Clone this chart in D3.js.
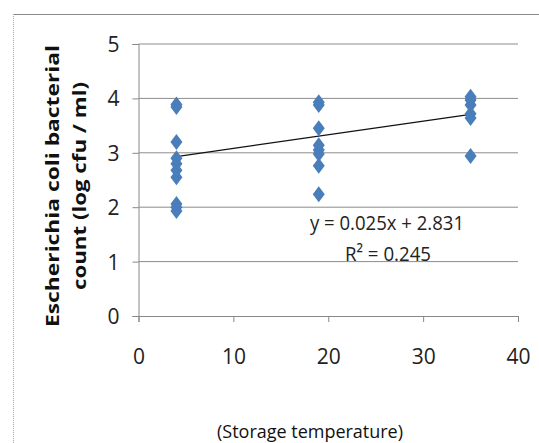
<!DOCTYPE html>
<html lang="en">
<head>
<meta charset="utf-8">
<title>E. coli vs storage temperature</title>
<script src="https://cdn.jsdelivr.net/npm/d3@7"></script>
<style>
  body { margin: 0; background: #fff; }
  text { font-family: "Open Sans", "Noto Sans", sans-serif; }
</style>
</head>
<body>
<script>
// storage temperature (x) and log cfu/ml (y)
var temps = [4, 4, 4, 4, 4, 4, 4, 4, 4, 4,
             19, 19, 19, 19, 19, 19, 19, 19,
             35, 35, 35, 35, 35, 35];
var counts = [3.84, 3.89, 3.2, 2.9, 2.8, 2.68, 2.55, 2.06, 2.0, 1.93,
              3.88, 3.93, 3.45, 3.14, 3.05, 2.98, 2.76, 2.24,
              4.03, 3.97, 3.88, 3.72, 3.64, 2.94];
var xTicks = [0, 10, 20, 30, 40];
var yTicks = [0, 1, 2, 3, 4, 5];
var slope = 0.025, intercept = 2.831, r2 = 0.245;
var trendX = [4, 35];

var w = 539, h = 443;
var svg = d3.select("body").append("svg")
    .attr("width", w)
    .attr("height", h);

// chart frame
svg.append("line").attr("x1", 13).attr("x2", w).attr("y1", 14.5).attr("y2", 14.5)
    .attr("stroke", "#888").attr("stroke-width", 1.2);
svg.append("line").attr("x1", 13.5).attr("x2", 13.5).attr("y1", 14).attr("y2", h)
    .attr("stroke", "#aaa").attr("stroke-dasharray", "1,1");

var x = d3.scaleLinear().domain([0, 40]).range([138.5, 518]);
var y = d3.scaleLinear().domain([0, 5]).range([316, 44]);

// gridlines
svg.selectAll(".grid")
    .data(yTicks.slice(1))
    .enter().append("line")
    .attr("x1", x(0)).attr("x2", x(40))
    .attr("y1", function(d) { return y(d); })
    .attr("y2", function(d) { return y(d); })
    .attr("stroke", "#8c8c8c").attr("stroke-width", 1);

// axes
var xAxis = svg.append("g")
    .attr("transform", "translate(0," + y(0) + ")")
    .call(d3.axisBottom(x).tickValues(xTicks).tickFormat(d3.format("d"))
        .tickSize(6).tickPadding(27));
var yAxis = svg.append("g")
    .attr("transform", "translate(" + x(0) + ",0)")
    .call(d3.axisLeft(y).tickValues(yTicks).tickFormat(d3.format("d"))
        .tickSize(6).tickPadding(13));

[xAxis, yAxis].forEach(function(a) {
    a.select(".domain").attr("stroke", "#888");
    a.selectAll(".tick line").attr("stroke", "#888");
    a.selectAll(".tick text")
        .attr("fill", "#222")
        .style("font-size", "21px")
        .style("font-family", "'Open Sans', sans-serif");
});
yAxis.selectAll(".tick text").attr("dy", "0.36em");

// trend line
svg.append("line")
    .attr("x1", x(trendX[0])).attr("y1", y(slope * trendX[0] + intercept))
    .attr("x2", x(trendX[1])).attr("y2", y(slope * trendX[1] + intercept))
    .attr("stroke", "#111").attr("stroke-width", 1.2);

// diamonds
svg.selectAll(".pt")
    .data(temps)
    .enter().append("path")
    .attr("d", "M0,-8L6,0L0,8L-6,0Z")
    .attr("transform", function(d, i) {
        return "translate(" + x(d) + "," + y(counts[i]) + ")";
    })
    .attr("fill", "#4a7ebb");

// equation
svg.append("text")
    .attr("x", 387).attr("y", 230)
    .attr("text-anchor", "middle")
    .attr("textLength", 154).attr("lengthAdjust", "spacingAndGlyphs")
    .style("font-size", "20px").attr("fill", "#222")
    .text("y = " + slope.toFixed(3) + "x + " + intercept.toFixed(3));
svg.append("text")
    .attr("x", 388).attr("y", 261)
    .attr("text-anchor", "middle")
    .attr("textLength", 86).attr("lengthAdjust", "spacingAndGlyphs")
    .style("font-size", "20px").attr("fill", "#222")
    .text("R\u00b2 = " + r2.toFixed(3));

// axis titles
var yt = svg.append("text")
    .attr("transform", "translate(59,186) rotate(-90)")
    .attr("text-anchor", "middle")
    .style("font-size", "17px").style("font-weight", "bold")
    .attr("fill", "#111");
yt.append("tspan").attr("x", 0).attr("dy", 0)
    .attr("textLength", 282).attr("lengthAdjust", "spacingAndGlyphs")
    .text("Escherichia coli bacterial");
yt.append("tspan").attr("x", 0).attr("dy", 27)
    .attr("textLength", 208).attr("lengthAdjust", "spacingAndGlyphs")
    .text("count (log cfu / ml)");

svg.append("text")
    .attr("x", 310).attr("y", 438)
    .attr("text-anchor", "middle")
    .attr("textLength", 186).attr("lengthAdjust", "spacingAndGlyphs")
    .style("font-size", "18px").attr("fill", "#111")
    .text("(Storage temperature)");
</script>
</body>
</html>
